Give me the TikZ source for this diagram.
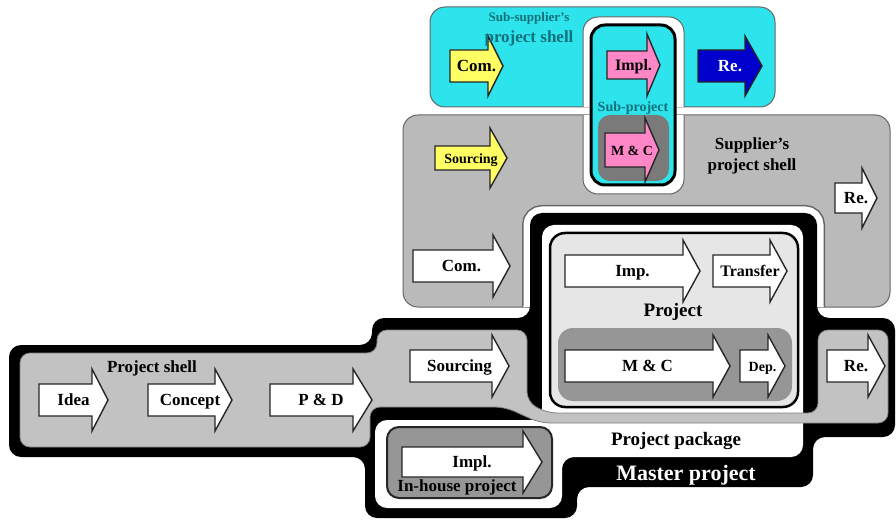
\documentclass[tikz,border=0pt]{standalone}
\usepackage{fontspec}
\setmainfont{Liberation Serif}
\definecolor{cyanfill}{RGB}{45,228,236}
\definecolor{supgray}{RGB}{186,186,186}
\definecolor{shellgray}{RGB}{194,194,194}
\definecolor{midgray}{RGB}{150,150,150}
\definecolor{subgray}{RGB}{122,122,122}
\definecolor{projfill}{RGB}{230,230,230}
\definecolor{yellowfill}{RGB}{255,255,100}
\definecolor{pinkfill}{RGB}{255,135,200}
\definecolor{bluefill}{RGB}{0,0,205}
\definecolor{tealtext}{RGB}{20,112,122}
\tikzset{
  arrowline/.style={draw=black!85, line width=1.4pt, line join=miter},
  shellline/.style={draw=black!60, line width=1pt},
  lbl/.style={font=\fontsize{17}{19}\selectfont\bfseries, inner sep=0pt, text=black, text height=11pt, text depth=0pt},
  txt/.style={font=\fontsize{17}{21}\selectfont\bfseries, inner sep=0pt, align=center},
}
\newcommand{\barrow}[9]{%
  \draw[arrowline, fill=#2] (#3,#6-#7) -- (#4,#6-#7) -- (#4,#6-#8) -- (#5,#6) -- (#4,#6+#8) -- (#4,#6+#7) -- (#3,#6+#7) -- cycle;
  \node[lbl] (#1) at ({(#3+#5)/2},#6) {#9};}
\def\masterpath{(9,345) -- (372,345) -- (372,318) -- (530,318) -- (530,213) -- (817,213) -- (817,318) -- (895,318) -- (895,437) -- (813,437) -- (813,487) -- (577,487) -- (577,518) -- (365,518) -- (365,457) -- (9,457) -- cycle}
\begin{document}
\begin{tikzpicture}[x=1pt,y=-1pt]
\useasboundingbox (0,0) rectangle (896,521);
% sub-supplier's shell
\draw[shellline, fill=cyanfill, rounded corners=15] (430,7) rectangle (775,107);
% supplier's shell
\draw[shellline, fill=supgray, rounded corners=15] (403,115) rectangle (890,307);
% moat around sub-project
\begin{scope}
\clip[rounded corners=15] (430,7) rectangle (775,107) (403,115) rectangle (890,307);
\draw[draw=black!60, line width=1pt, fill=white, rounded corners=15] (583,17) rectangle (684,194);
\end{scope}
% moat around master project inside supplier's shell
\begin{scope}
\clip[rounded corners=15] (403,115) rectangle (890,307);
\draw[draw=black!60, line width=16pt, rounded corners=12] \masterpath;
\draw[draw=white, line width=13pt, rounded corners=12] \masterpath;
\end{scope}
% master project
\fill[black, rounded corners=12] \masterpath;
% project package
\fill[white, rounded corners=12] (542,225) -- (803,225) -- (803,457) -- (562,457) -- (562,508) -- (375,508) -- (375,420) -- (542,420) -- cycle;
% project shell
\draw[draw=black!50, line width=0.8pt, fill=shellgray, rounded corners=10] (20,353) -- (377,353) -- (377,330) -- (527,330) -- (527,402) -- (547,413) -- (818,413) -- (818,330) -- (888,330) -- (888,423) -- (540,423) -- (505,407) -- (370,407) -- (370,447) -- (20,447) -- cycle;
% project
\draw[black, line width=2.5pt, fill=projfill, rounded corners=15] (550,233) rectangle (798,407);
\fill[midgray, rounded corners=15] (558,328) rectangle (792,401);
% in-house project
\draw[black!85, line width=2pt, fill=midgray, rounded corners=12] (387,427) rectangle (552,498);
% sub-project
\draw[black, line width=3pt, fill=cyanfill, rounded corners=14] (591,25) rectangle (675,185);
\fill[subgray, rounded corners=12] (598,115) rectangle (669,181);

% arrows
\barrow{idea}{white}{39}{92}{108}{400}{16}{31}{Idea}
\barrow{concept}{white}{148}{215}{232}{400}{16}{31}{Concept}
\barrow{pd}{white}{270}{353}{372}{400}{16}{31}{P \& D}
\barrow{msrc}{white}{410}{492}{509}{366}{16}{31}{Sourcing}
\barrow{mmc}{white}{565}{713}{730}{366}{16}{31}{M \& C}
\barrow{dep}{white}{740}{768}{785}{366}{16}{31}{\fontsize{14}{16}\selectfont Dep.}
\barrow{mre}{white}{827}{868}{885}{366}{16}{31}{Re.}
\barrow{ihimpl}{white}{402}{523}{542}{462}{15}{31}{Impl.}
\barrow{imp}{white}{565}{683}{700}{271}{16}{31}{Imp.}
\barrow{transfer}{white}{713}{770}{787}{271}{16}{31}{\fontsize{16}{18}\selectfont Transfer}
\barrow{ysrc}{yellowfill}{435}{490}{507}{158}{12}{30}{\fontsize{14}{16}\selectfont Sourcing}
\barrow{scom}{white}{413}{493}{510}{266}{16}{31}{Com.}
\barrow{sre}{white}{835}{862}{877}{198}{15}{30}{Re.}
\barrow{ccom}{yellowfill}{450}{488}{503}{66}{16}{30}{Com.}
\barrow{cre}{bluefill}{698}{745}{762}{66}{16}{30}{\color{white}Re.}
\barrow{simpl}{pinkfill}{607}{647}{660}{65}{14}{31}{\fontsize{16}{18}\selectfont Impl.}
\barrow{smc}{pinkfill}{605}{645}{659}{150}{17}{32}{\fontsize{14}{16}\selectfont M \& C}

% labels
\node[txt] (pshell) at (152,368) {Project shell};
\node[txt] (ppkg) at (676,441) {\fontsize{19}{21}\selectfont Project package};
\node[txt, text=white] (master) at (686,475) {\fontsize{22}{24}\selectfont Master project};
\node[txt] (project) at (673,312) {\fontsize{19}{21}\selectfont Project};
\node[txt] (ihp) at (457,487) {In-house project};
\node[txt] (supshell) at (752,156) {Supplier's\\project shell};
\node[txt, text=tealtext] (subshell) at (529,29) {\fontsize{13}{18}\selectfont Sub-supplier's\\project shell};
\node[txt, text=tealtext] (subproj) at (633,108) {\fontsize{14}{16}\selectfont Sub-project};
\end{tikzpicture}
\end{document}
